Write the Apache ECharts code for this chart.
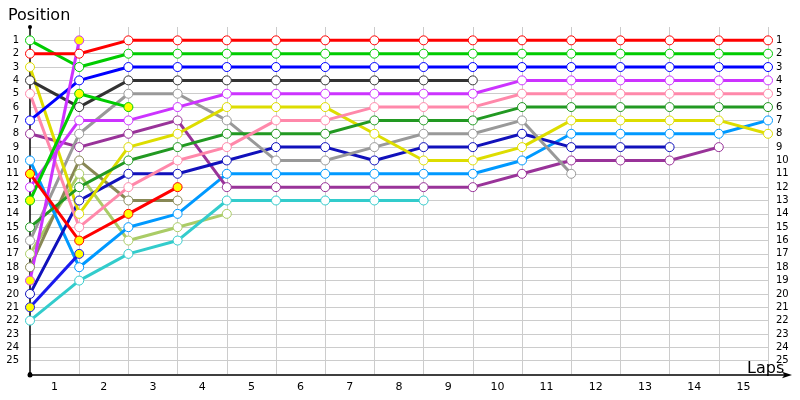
<!DOCTYPE html>
<html>
<head>
<meta charset="utf-8">
<script src="https://cdn.jsdelivr.net/npm/echarts@6/dist/echarts.min.js"></script>
<style>
  html, body { margin: 0; padding: 0; background: #fff; }
  #chart { width: 800px; height: 400px; }
</style>
</head>
<body>
<div id="chart"></div>
<script>
// lap labels shown under the axis
var lapLabels = ['1', '2', '3', '4', '5', '6', '7', '8', '9', '10', '11', '12', '13', '14', '15']

// position of each driver from lap 0 (grid) onwards
var posRed = [2, 2, 1, 1, 1, 1, 1, 1, 1, 1, 1, 1, 1, 1, 1, 1]
var posGreen = [1, 3, 2, 2, 2, 2, 2, 2, 2, 2, 2, 2, 2, 2, 2, 2]
var posBlue = [7, 4, 3, 3, 3, 3, 3, 3, 3, 3, 3, 3, 3, 3, 3, 3]
var posBlack = [4, 6, 4, 4, 4, 4, 4, 4, 4, 4]
var posViolet = [12, 7, 7, 6, 5, 5, 5, 5, 5, 5, 4, 4, 4, 4, 4, 4]
var posPink = [5, 15, 12, 10, 9, 7, 7, 6, 6, 6, 5, 5, 5, 5, 5, 5]
var posDarkGreen = [15, 12, 10, 9, 8, 8, 8, 7, 7, 7, 6, 6, 6, 6, 6, 6]
var posYellow = [3, 14, 9, 8, 6, 6, 6, 8, 10, 10, 9, 7, 7, 7, 7, 8]
var posGray = [16, 8, 5, 5, 7, 10, 10, 9, 8, 8, 7, 11]
var posNavy = [20, 13, 11, 11, 10, 9, 9, 10, 9, 9, 8, 9, 9, 9]
var posLightBlue = [10, 18, 15, 14, 11, 11, 11, 11, 11, 11, 10, 8, 8, 8, 8, 7]
var posPurple = [8, 9, 8, 7, 12, 12, 12, 12, 12, 12, 11, 10, 10, 10, 9]
var posCyan = [22, 19, 17, 16, 13, 13, 13, 13, 13]
var posLightOlive = [17, 11, 16, 15, 14]
var posOlive = [18, 10, 13, 13]
var posRedY = [11, 16, 14, 12]
var posGreenY = [13, 5, 6]
var posVioletY = [19, 1]
var posBlueY = [21, 17]

var drivers = [
  { pos: posLightOlive, color: '#aacc66' },
  { pos: posOlive, color: '#888855' },
  { pos: posCyan, color: '#33cccc' },
  { pos: posLightBlue, color: '#0099ff' },
  { pos: posPurple, color: '#993399' },
  { pos: posNavy, color: '#1111bb' },
  { pos: posGray, color: '#999999' },
  { pos: posYellow, color: '#dddd00' },
  { pos: posDarkGreen, color: '#229922' },
  { pos: posPink, color: '#ff88aa' },
  { pos: posViolet, color: '#cc33ff' },
  { pos: posBlack, color: '#333333' },
  { pos: posBlue, color: '#0000ff' },
  { pos: posGreen, color: '#00cc00' },
  { pos: posRed, color: '#ff0000' },
  { pos: posBlueY, color: '#1a1aee', fill: '#ffff00' },
  { pos: posVioletY, color: '#cc33ff', fill: '#ffff00' },
  { pos: posGreenY, color: '#00cc00', fill: '#ffff00' },
  { pos: posRedY, color: '#ff0000', fill: '#ffff00' }
]

var font = 'DejaVu Sans'
var gridLine = { show: true, showMinLine: false, showMaxLine: true, lineStyle: { color: '#cccccc', width: 1 } }

var chart = echarts.init(document.getElementById('chart'))
chart.setOption({
  animation: false,
  title: [
    { text: 'Position', left: 3, top: 3, textStyle: { fontFamily: font, fontSize: 16, fontWeight: 'normal', color: '#000' } },
    { text: 'Laps', left: 742, top: 356, textStyle: { fontFamily: font, fontSize: 16, fontWeight: 'normal', color: '#000' } }
  ],
  grid: [
    { left: 30, right: 32, top: 27, bottom: 26 },
    { left: 30, right: 12, top: 27, bottom: 25 }
  ],
  xAxis: [
    {
      gridIndex: 0, type: 'value', min: 0, max: 15, interval: 1,
      axisLine: { show: false }, axisTick: { show: false }, axisLabel: { show: false },
      splitLine: gridLine
    },
    {
      gridIndex: 0, type: 'category', data: lapLabels, boundaryGap: true, position: 'bottom',
      axisLine: { show: false, onZero: false }, axisTick: { show: false }, splitLine: { show: false },
      axisLabel: { color: '#000', fontFamily: font, fontSize: 11, margin: 8 }
    },
    {
      gridIndex: 1, type: 'value', min: 0, max: 1, z: 5, position: 'bottom',
      axisLine: { show: true, onZero: false, symbol: ['circle', 'arrow'], symbolSize: [5, 10], symbolOffset: [0, 4], lineStyle: { color: '#000', width: 1.5 } },
      axisTick: { show: false }, axisLabel: { show: false }, splitLine: { show: false }
    }
  ],
  yAxis: [
    {
      gridIndex: 0, type: 'value', min: 0, max: 26, interval: 1, inverse: true,
      axisLine: { show: true, onZero: false, symbol: ['circle', 'circle'], symbolSize: [4, 4], lineStyle: { color: '#000', width: 1.5 } },
      axisTick: { show: false },
      axisLabel: {
        color: '#000', fontFamily: font, fontSize: 10, margin: 11,
        formatter: function(v) { return v >= 1 && v <= 25 ? String(v) : '' }
      },
      splitLine: { show: true, showMinLine: false, showMaxLine: false, lineStyle: { color: '#cccccc', width: 1 } }
    },
    {
      gridIndex: 0, type: 'value', min: 0, max: 26, interval: 1, inverse: true, position: 'right',
      axisLine: { show: false }, axisTick: { show: false }, splitLine: { show: false },
      axisLabel: {
        color: '#000', fontFamily: font, fontSize: 10, margin: 8,
        formatter: function(v) { return v >= 1 && v <= 25 ? String(v) : '' }
      }
    },
    { gridIndex: 1, type: 'value', min: 0, max: 26, inverse: true, show: false }
  ],
  series: drivers.map(function(d) {
    return {
      type: 'line',
      xAxisIndex: 0,
      yAxisIndex: 0,
      data: d.pos.map(function(p, i) { return [i, p] }),
      symbol: 'circle',
      symbolSize: 9,
      showAllSymbol: true,
      lineStyle: { color: d.color, width: 3 },
      itemStyle: { color: d.fill || '#ffffff', borderColor: d.color, borderWidth: 1 }
    }
  })
})
</script>
</body>
</html>
